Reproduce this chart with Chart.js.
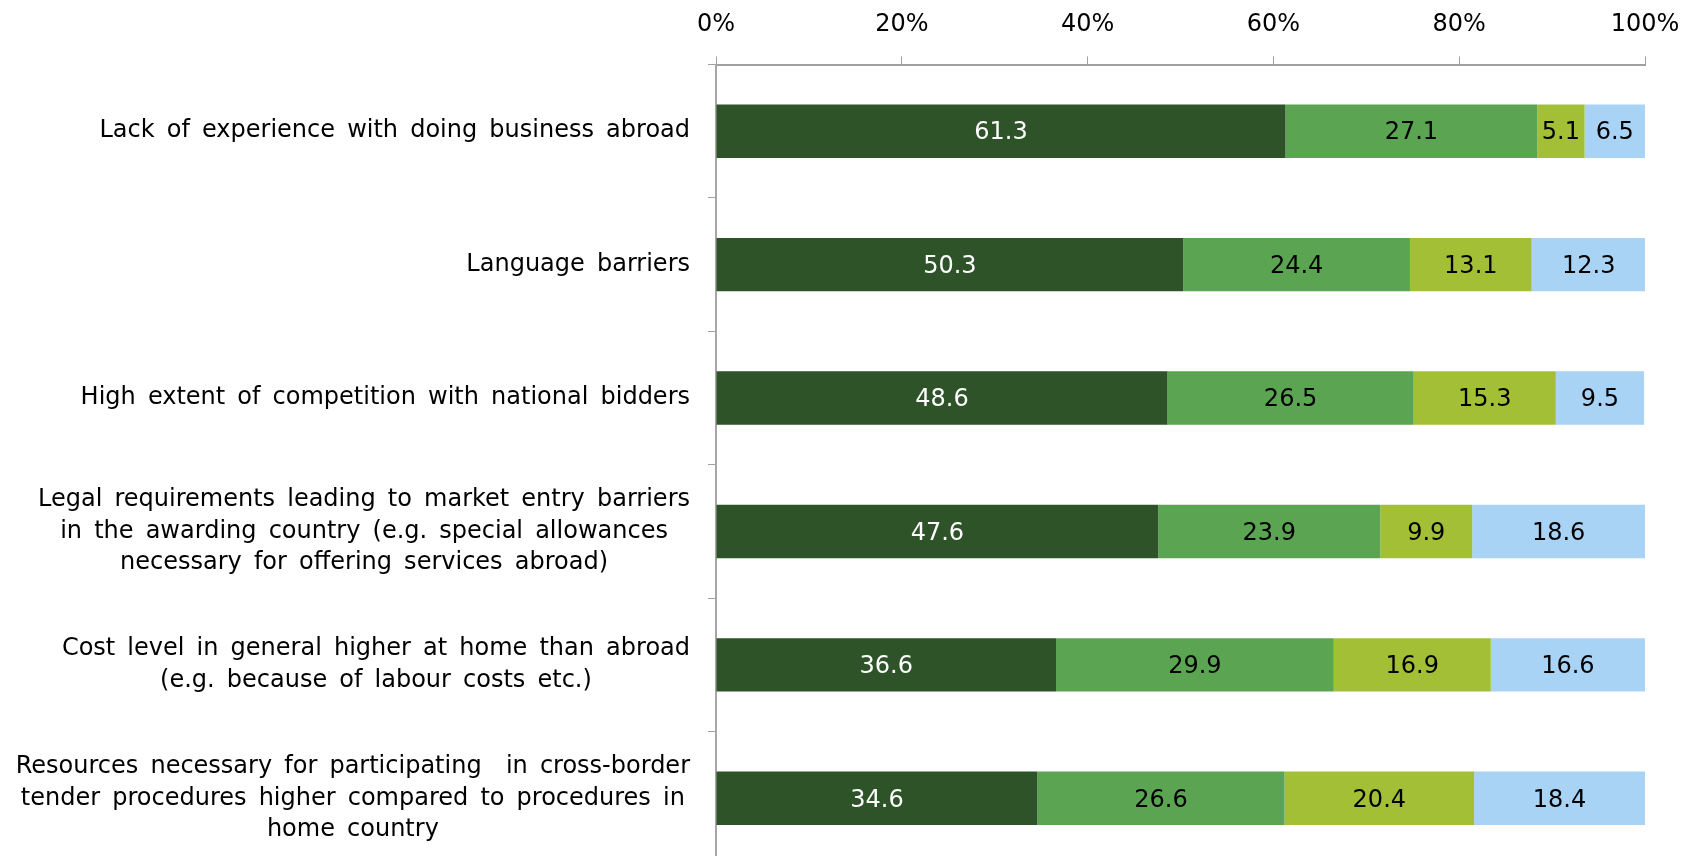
<!DOCTYPE html>
<html>
<head>
<meta charset="utf-8">
<script src="https://cdn.jsdelivr.net/npm/chart.js@4/dist/chart.umd.min.js"></script>
<style>
  html, body { margin: 0; padding: 0; background: #fff; overflow: hidden; }
  canvas { display: block; }
</style>
</head>
<body>
<canvas id="barriersChart" width="1692" height="866"></canvas>
<script>
// Category labels (line breaks as in the original)
const categories = [
    ['Lack of experience with doing business abroad'],
    ['Language barriers'],
    ['High extent of competition with national bidders'],
    ['Legal requirements leading to market entry barriers',
     'in the awarding country (e.g. special allowances',
     'necessary for offering services abroad)'],
    ['Cost level in general higher at home than abroad',
     '(e.g. because of labour costs etc.)'],
    ['Resources necessary for participating  in cross-border',
     'tender procedures higher compared to procedures in',
     'home country']
];

// Share of answers per category (%)
const series1 = [61.3, 50.3, 48.6, 47.6, 36.6, 34.6];
const series2 = [27.1, 24.4, 26.5, 23.9, 29.9, 26.6];
const series3 = [5.1, 13.1, 15.3, 9.9, 16.9, 20.4];
const series4 = [6.5, 12.3, 9.5, 18.6, 16.6, 18.4];

// Axis ticks
const tickValues = [0, 20, 40, 60, 80, 100];

const FONT = 'DejaVu Sans';
Chart.defaults.font.family = FONT;
Chart.defaults.font.size = 24;
Chart.defaults.color = '#000';

// Draw the value inside each bar segment
const valueLabels = {
    id: 'valueLabels',
    afterDatasetsDraw(chart) {
        const ctx = chart.ctx;
        ctx.save();
        ctx.font = '24px "' + FONT + '"';
        ctx.textAlign = 'center';
        ctx.textBaseline = 'middle';
        chart.data.datasets.forEach((ds, di) => {
            const meta = chart.getDatasetMeta(di);
            ctx.fillStyle = di === 0 ? '#fff' : '#000';
            meta.data.forEach((bar, i) => {
                const x = (bar.x + bar.base) / 2;
                ctx.fillText(ds.data[i].toFixed(1), x, bar.y + 2);
            });
        });
        ctx.restore();
    }
};

// Category labels: right-aligned block, lines centred within the block
const categoryLabels = {
    id: 'categoryLabels',
    afterDraw(chart) {
        const ctx = chart.ctx;
        const yScale = chart.scales.y;
        const right = chart.chartArea.left - 26;
        const lineHeight = 31.5;
        ctx.save();
        ctx.font = '24px "' + FONT + '"';
        if ('wordSpacing' in ctx) ctx.wordSpacing = '4.5px';
        ctx.fillStyle = '#000';
        ctx.textAlign = 'center';
        ctx.textBaseline = 'middle';
        categories.forEach((lines, i) => {
            const widest = Math.max(...lines.map(l => ctx.measureText(l).width));
            const cx = right - widest / 2;
            const cy = yScale.getPixelForTick(i);
            lines.forEach((line, j) => {
                ctx.fillText(line, cx, cy + (j - (lines.length - 1) / 2) * lineHeight);
            });
        });
        ctx.restore();
    }
};

new Chart(document.getElementById('barriersChart'), {
    type: 'bar',
    data: {
        labels: categories,
        datasets: [
            { label: 'Series 1', data: series1, backgroundColor: '#2e5329' },
            { label: 'Series 2', data: series2, backgroundColor: '#5ba552' },
            { label: 'Series 3', data: series3, backgroundColor: '#a2bf36' },
            { label: 'Series 4', data: series4, backgroundColor: '#a9d3f5' }
        ]
    },
    options: {
        indexAxis: 'y',
        responsive: false,
        animation: false,
        devicePixelRatio: 1,
        layout: { padding: { left: 0, right: 47, top: 0, bottom: 1 } },
        plugins: {
            legend: { display: false },
            tooltip: { enabled: false }
        },
        datasets: {
            bar: { categoryPercentage: 1, barPercentage: 0.4 }
        },
        scales: {
            x: {
                position: 'top',
                stacked: true,
                min: 0,
                max: 100,
                afterBuildTicks: (s) => { s.ticks = tickValues.map(v => ({ value: v })); },
                afterFit: (s) => { s.height = 64.5; s.paddingRight = 47; },
                ticks: {
                    padding: 17,
                    font: { size: 24 },
                    color: '#000',
                    callback: (v) => v + '%'
                },
                grid: { drawOnChartArea: false, tickLength: 8, color: '#a0a0a0' },
                border: { color: '#a0a0a0', width: 2 }
            },
            y: {
                stacked: true,
                afterFit: (s) => { s.width = 716; },
                ticks: { display: false },
                grid: { offset: true, drawOnChartArea: false, tickLength: 8, color: '#a0a0a0' },
                border: { color: '#a6a6a6', width: 2 }
            }
        }
    },
    plugins: [valueLabels, categoryLabels]
});
</script>
</body>
</html>
